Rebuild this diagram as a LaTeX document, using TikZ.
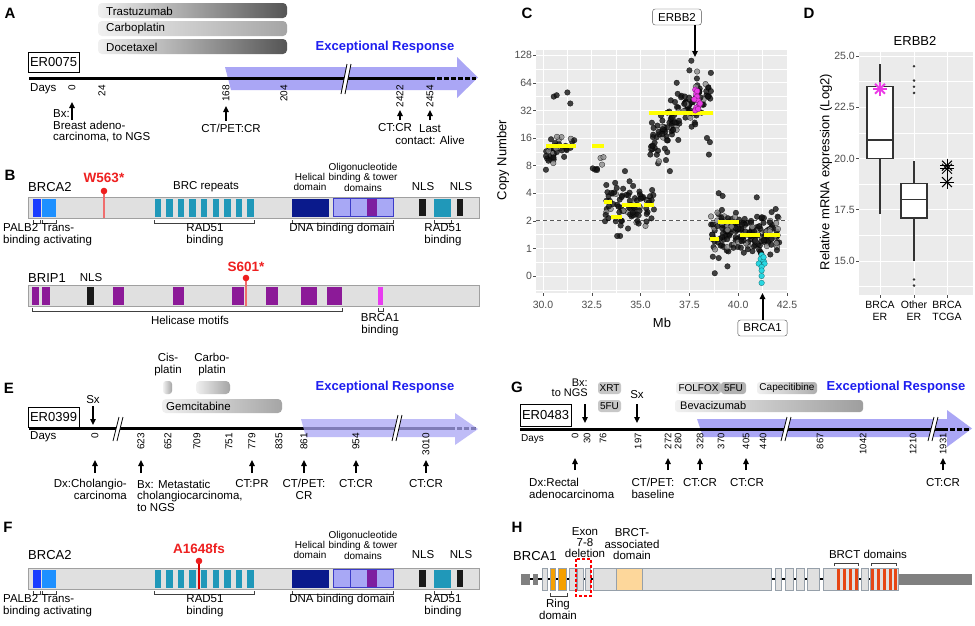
\documentclass[tikz,border=0pt]{standalone}
\usepackage{fontspec}
\setmainfont{Liberation Sans}
\usetikzlibrary{arrows.meta}

\definecolor{lav}{RGB}{170,166,245}
\definecolor{erblue}{RGB}{30,30,240}
\definecolor{mutred}{RGB}{238,32,32}
\definecolor{mutline}{RGB}{240,110,110}
\definecolor{barbg}{RGB}{224,224,224}
\definecolor{barln}{RGB}{160,160,160}
\definecolor{palb}{RGB}{25,60,255}
\definecolor{trans}{RGB}{30,144,255}
\definecolor{brc}{RGB}{32,152,185}
\definecolor{helic}{RGB}{10,26,140}
\definecolor{obd}{RGB}{168,168,245}
\definecolor{obln}{RGB}{60,60,200}
\definecolor{purp}{RGB}{125,30,160}
\definecolor{heli}{RGB}{140,26,152}
\definecolor{brcbind}{RGB}{232,60,240}
\definecolor{ggbg}{RGB}{235,235,235}
\definecolor{ggtxt}{RGB}{77,77,77}
\definecolor{segy}{RGB}{255,255,0}
\definecolor{magp}{RGB}{235,60,230}
\definecolor{cyanp}{RGB}{40,215,225}
\definecolor{ring}{RGB}{245,160,0}
\definecolor{bract}{RGB}{253,215,155}
\definecolor{brct}{RGB}{230,70,20}
\definecolor{utr}{RGB}{128,128,128}
\definecolor{exln}{RGB}{150,160,170}
\definecolor{druglt}{RGB}{240,240,240}
\definecolor{drugdk}{RGB}{85,85,85}
\definecolor{drugmd}{RGB}{165,165,165}

\tikzset{
  lab/.style={inner sep=0pt, font=\fontsize{11.5}{11.5}\selectfont, align=center},
  small/.style={inner sep=0pt, font=\fontsize{10}{10.5}\selectfont, align=center},
  tk/.style={inner sep=0pt, font=\fontsize{10}{10}\selectfont, rotate=90, anchor=east},
  panel/.style={inner sep=0pt, font=\fontsize{15}{15}\selectfont\bfseries},
  gname/.style={inner sep=0pt, font=\fontsize{13}{13}\selectfont, anchor=west},
  mut/.style={inner sep=0pt, font=\fontsize{13.5}{13.5}\selectfont\bfseries, text=mutred},
  resp/.style={inner sep=0pt, font=\fontsize{13}{13}\selectfont\bfseries, text=erblue},
  idbox/.style={draw, line width=0.9pt, inner sep=0pt, minimum width=51pt, minimum height=20pt, font=\fontsize{13}{13}\selectfont},
  evt/.style={line width=1.5pt, -{Triangle[length=6pt,width=5.5pt]}},
  tline/.style={line width=3pt},
  tdash/.style={line width=3pt, dash pattern=on 5pt off 2pt},
  brkt/.style={draw=black!75, line width=0.8pt},
  drug/.style={rounded corners=4pt, left color=druglt, right color=#1},
  ggtick/.style={inner sep=0pt, font=\fontsize{10.5}{12}\selectfont, text=ggtxt, align=center},
  axt/.style={inner sep=0pt, font=\fontsize{13}{13}\selectfont},
  cnpt/.style={draw=black, line width=0.3pt, fill=#1, fill opacity=0.8, draw opacity=0.8},
  exon/.style={fill=barbg, draw=exln, line width=0.6pt},
  bx/.style={draw=black!80, line width=1.1pt},
}

% timeline break mark
\newcommand{\tlbreak}[3]{%
  \fill[white] (#1-5,#2+#3) -- (#1+1,#2-#3) -- (#1+5,#2-#3) -- (#1-1,#2+#3) -- cycle;
  \draw[line width=0.8pt] (#1-5,#2+#3) -- (#1+1,#2-#3) (#1-1,#2+#3) -- (#1+5,#2-#3);}

% asterisk marker
\newcommand{\astk}[3]{\foreach \a in {0,45,90,135} \draw[#3] (#1) +(\a:#2) -- +(\a:-#2);}

% BRCA2 protein map (panels B and F); #2 lifts the labels above the bar
\newcommand{\brcatwo}[2]{%
  \node[gname] (#1name) at (28,187-#2) {BRCA2};
  \draw[fill=barbg, draw=barln, line width=0.7pt] (28,197) rectangle (479,218);
  \fill[palb] (33,198.5) rectangle (41,216.5);
  \fill[trans] (42,198.5) rectangle (56,216.5);
  \foreach \i in {0,...,8} \fill[brc] (154.5+11.6*\i,198.5) rectangle ++(6.5,18);
  \fill[helic] (292,198.5) rectangle (329,216.5);
  \fill[obd] (333,198.5) rectangle (393,216.5);
  \fill[purp] (367,198.5) rectangle (377,216.5);
  \draw[obln, line width=0.5pt] (350,198.5) -- (350,216.5) (333,198.5) rectangle (393,216.5);
  \fill[black!90] (419,199) rectangle (426,216);
  \fill[brc] (434,198.5) rectangle (451,216.5);
  \fill[black!90] (457,199) rectangle (463,216);
  \foreach \a/\b in {33/40,42/56,154/254,292/393,434/451}
    \draw[brkt] (\a,220) -- (\a,223) -- (\b,223) -- (\b,220);
  \node[small] (#1hel) at (310,182-#2) {Helical\\domain};
  \node[small] (#1ob) at (363,177-#2) {Oligonucleotide\\binding \& tower\\domains};
  \node[lab] (#1nlsa) at (423,187-#2) {NLS};
  \node[lab] (#1nlsb) at (461,187-#2) {NLS};
  \node[lab, font=\fontsize{11.5}{12}\selectfont, align=left, anchor=west] (#1palb) at (3,235) {PALB2 Trans-\\binding activating};
  \node[lab, font=\fontsize{11.5}{12}\selectfont] (#1rada) at (205,235) {RAD51\\binding};
  \node[lab] (#1dna) at (342,229) {DNA binding domain};
  \node[lab, font=\fontsize{11.5}{12}\selectfont] (#1radb) at (443,235) {RAD51\\binding};
}

\begin{document}
\begin{tikzpicture}[x=1pt, y=-1pt]
\fill[white] (0,0) rectangle (975,625);
\useasboundingbox (0,0) rectangle (975,625);

% ---------------- A ----------------
\node[panel] (pA) at (10,13) {A};
\shade[drug=drugdk] (98,3) rectangle (287,18);
\shade[drug=drugmd] (98,21) rectangle (287,36);
\shade[drug=drugdk] (98,39) rectangle (287,54);
\node[lab, anchor=west] (trast) at (106,11) {Trastuzumab};
\node[lab, anchor=west] (carbA) at (106,29) {Carboplatin};
\node[lab, anchor=west] (doce) at (106,47) {Docetaxel};
\node[resp] (respA) at (385,47) {Exceptional Response};
\node[idbox] (er75) at (53.5,62) {ER0075};
\fill[lav] (225,67) -- (457,67) -- (457,57) -- (478,77.5) -- (457,98) -- (457,90) -- (231,90) -- cycle;
\draw[tline] (29,78) -- (435,78);
\draw[tdash] (437,78) -- (476,78);
\tlbreak{346}{79}{15}
\node[lab, anchor=west] (daysA) at (30,89) {Days};
\foreach \x/\t in {72/0,102/24,226/168,284/204,400/2422,430/2454}
  \node[tk] at (\x,85) {\t};
\draw[evt] (72,120) -- (72,102);
\draw[evt] (226,121) -- (226,106);
\draw[evt] (400,120) -- (400,110);
\draw[evt] (430,120) -- (430,110);
\node[lab, font=\fontsize{11.5}{11.5}\selectfont, align=left, anchor=west] (bxA) at (53,126) {Bx:\\Breast adeno-\\carcinoma, to NGS};
\node[lab] (ctA) at (231,128) {CT/PET:CR};
\node[lab] (crA) at (395,128) {CT:CR};
\node[lab, font=\fontsize{11.5}{12.5}\selectfont] (lastA) at (430,134.5) {Last\\contact: Alive};

% ---------------- B ----------------
\node[panel] (pB) at (10,175) {B};
\brcatwo{b}{0}
\node[lab] (bbrc) at (206,187) {BRC repeats};
\draw[mutline, line width=1.2pt] (104,191) -- (104,218);
\fill[mutred] (104,191) circle (3.3pt);
\node[mut] (w563) at (104,178) {W563*};
% BRIP1
\node[gname] (brip) at (28,278) {BRIP1};
\node[lab] (nlsC) at (91,278) {NLS};
\draw[fill=barbg, draw=barln, line width=0.7pt] (28,285) rectangle (479,306);
\foreach \a/\b in {32/39,42/50,113/124,173/184,232/244,266/278,301/317,327/342}
  \fill[heli] (\a,286.5) rectangle (\b,304.5);
\fill[black!90] (87,286.5) rectangle (94,304.5);
\fill[brcbind] (378,286.5) rectangle (383,304.5);
\draw[mutline, line width=1.2pt] (246,278) -- (246,306);
\fill[mutred] (246,278) circle (3.3pt);
\node[mut] (s601) at (246,267) {S601*};
\draw[brkt] (32,308) -- (32,311) -- (342,311) -- (342,308);
\draw[brkt] (378,308) -- (378,311) -- (383,311) -- (383,308);
\node[lab] (helim) at (190,320) {Helicase motifs};
\node[lab, font=\fontsize{11.5}{12}\selectfont] (b1bind) at (380,325) {BRCA1\\binding};

% ---------------- C ----------------
\node[panel] (pC) at (527,13) {C};
\fill[ggbg] (536,50) rectangle (788,293);
\begin{scope}[shift={(543,276)}, x=19.52pt, y=27.6pt]
  \foreach \p in {-0.5,0.5,...,7.5} \draw[white, line width=0.4pt] (-0.36,\p) -- (12.55,\p);
  \foreach \m in {1.25,3.75,...,11.25} \draw[white, line width=0.4pt] (\m,-0.62) -- (\m,8.19);
  \foreach \p in {0,...,8} \draw[white, line width=1pt] (-0.36,\p) -- (12.55,\p);
  \foreach \m in {0,2.5,5,7.5,10,12.5} \draw[white, line width=1pt] (\m,-0.62) -- (\m,8.19);
  \draw[black!65, line width=0.7pt, dash pattern=on 4pt off 3pt] (-0.36,2) -- (12.55,2);
  \foreach \p/\t in {0/0,1/1,2/2,3/4,4/8,5/16,6/32,7/64,8/128}{
    \draw[ggtxt, line width=0.6pt] (-0.36,\p) -- ++(-3pt,0);
    \node[ggtick, anchor=east] at (-0.55,\p) {\t};
  }
  \foreach \m/\t in {0/30.0,2.5/32.5,5/35.0,7.5/37.5,10/40.0,12.5/42.5}{
    \draw[ggtxt, line width=0.6pt] (\m,-0.62) -- ++(0,-3pt);
    \node[ggtick] at (\m,-1.05) {\t};
  }
  % copy number points
  \pgfmathsetseed{2718}
  \foreach \nn/\xa/\xb/\pa/\pb/\sd in {38/0.15/1.6/4.35/4.95/0.25, 6/2.55/3.1/3.85/4.25/0.12,
      80/3.15/5.7/2.7/2.5/0.4, 120/5.5/8.6/4.8/6.8/0.4, 185/8.6/12.1/1.65/1.45/0.38}{
    \foreach \i in {1,...,\nn}{
      \pgfmathsetmacro\uu{rnd}
      \pgfmathsetmacro\xx{\xa+(\xb-\xa)*\uu}
      \pgfmathsetmacro\yy{\pa+(\pb-\pa)*\uu+\sd*(rand+rand+rand)}
      \pgfmathtruncatemacro\gry{rnd<0.18}
      \ifnum\gry=1 \fill[cnpt=black!45] (\xx,\yy) circle (2.8pt);
      \else \fill[cnpt=black!92] (\xx,\yy) circle (2.8pt); \fi
    }
  }
  \foreach \xx/\yy in {0.55/6.5,0.7/6.55,1.25/6.65,1.4/6.25,0.15/3.85,1.6/4.92,2.55/3.9,4.2/3.8,
      5/2.8,4.9/1.9,3.95/1.45,3.8/1.45,7.6/7.8,7.5/7.45,6.85/7.0,6.9/6.6,8.45/6.5,8.6/6.7,
      8.5/4.4,8.55/4.85,8.4/5.0,5.5/4.4,6.3/4.2,6.5/3.8,9.45/0.35,8.8/0.1,8.7/0.7,9/0.65,
      10.95/2.85,9/3.0,9.2/2.9,4.9/2.2,4.6/2.3}
    \fill[cnpt=black!92] (\xx,\yy) circle (2.8pt);
  \foreach \xa/\xb/\pp in {0.15/1.7/4.72,2.5/3.1/4.72,3.1/3.55/2.69,3.47/4.03/2.13,4.03/5.0/2.57,
      5.17/5.7/2.57,5.45/8.7/5.92,8.55/9.0/1.33,8.95/10.05/1.94,10.1/11.1/1.49,11.3/12.15/1.49}
    \draw[segy, line width=4pt] (\xa,\pp) -- (\xb,\pp);
  \foreach \xx/\yy in {7.8/6.75,7.85/6.6,7.9/6.5,7.95/6.35,8.0/6.2,7.85/6.1,7.8/6.0,7.95/6.05,
      8.05/6.25,7.75/6.4,7.9/6.7}
    \draw[fill=magp, draw=magp!50!black, line width=0.3pt] (\xx,\yy) circle (2.8pt);
  \foreach \xx/\yy in {11.2/0.76,11.15/0.62,11.3/0.55,11.05/0.45,11.35/0.45,11.2/0.33,11.2/0.2,
      11.2/0.0,11.2/-0.25,11.3/0.68}
    \draw[fill=cyanp, draw=cyanp!50!black, line width=0.3pt] (\xx,\yy) circle (2.8pt);
\end{scope}
\node[axt, rotate=90] (cnlab) at (503,160) {Copy Number};
\node[axt] (mblab) at (662,323) {Mb};
\node[lab, draw=black!70, rounded corners=2.5pt, inner xsep=5.5pt, minimum height=16pt] (erbb2) at (677,17) {ERBB2};
\coordinate (erbb2tip) at (695,57);
\draw[evt, line width=2pt] (erbb2.south -| erbb2tip) -- (erbb2tip);
\node[lab, draw=black!70, rounded corners=2.5pt, inner xsep=5.5pt, minimum height=16pt] (brca1box) at (762.5,328) {BRCA1};
\coordinate (brca1tip) at (762.5,293);
\draw[evt, line width=2pt] (brca1box.north) -- (brca1tip);

% ---------------- D ----------------
\node[panel] (pD) at (809,13) {D};
\node[axt] (dtitle) at (915,41) {ERBB2};
\fill[ggbg] (859,52) rectangle (973,295);
\begin{scope}[shift={(0,56)}, y=20.5pt]
  \foreach \v in {-11.25,-8.75,-6.25,-3.75,-1.25} \draw[white, line width=0.4pt] (859,\v) -- (973,\v);
  \foreach \v/\t in {0/25.0,-2.5/22.5,-5/20.0,-7.5/17.5,-10/15.0}{
    \draw[white, line width=1pt] (859,\v) -- (973,\v);
    \draw[ggtxt, line width=0.6pt] (859,\v) -- ++(-3pt,0);
    \node[ggtick, anchor=east] at (855,\v) {\t};
  }
  \foreach \x in {880,914,947}{
    \draw[white, line width=1pt] (\x,0.19) -- (\x,-11.66);
    \draw[ggtxt, line width=0.6pt] (\x,-11.66) -- ++(0,-3pt);
  }
  % BRCA ER
  \draw[bx] (880,17.3-25) -- (880,-5) (880,-1.5) -- (880,24.6-25);
  \draw[bx, fill=white] (867,-5) rectangle (893,-1.5);
  \draw[bx, line width=1.8pt] (867,20.9-25) -- (893,20.9-25);
  \astk{880,23.4-25}{7pt}{magp, line width=2pt}
  % Other ER
  \draw[bx] (914,15-25) -- (914,17.1-25) (914,18.8-25) -- (914,19.9-25);
  \draw[bx, fill=white] (901,17.1-25) rectangle (927,18.8-25);
  \draw[bx, line width=1.8pt] (901,18-25) -- (927,18-25);
  \foreach \v in {24.5,23.8,23.5,23.2,14.1,13.8} \fill[black!80] (914,\v-25) circle (1.4pt);
  % BRCA TCGA
  \astk{947,19.65-25}{7pt}{black, line width=1pt}
  \astk{947,19.5-25}{7pt}{black, line width=1pt}
  \astk{947,18.85-25}{7pt}{black, line width=1pt}
\end{scope}
\node[axt, rotate=90] (dylab) at (826,172) {Relative mRNA expression (Log2)};
\node[ggtick, text=black] (xbrca) at (880,311) {BRCA\\ER};
\node[ggtick, text=black] (xother) at (914,311) {Other\\ER};
\node[ggtick, text=black] (xtcga) at (947,311) {BRCA\\TCGA};

% ---------------- E ----------------
\node[panel] (pE) at (9,388) {E};
\node[lab, font=\fontsize{11.5}{12}\selectfont] (cisE) at (168,365) {Cis-\\platin};
\node[lab, font=\fontsize{11.5}{12}\selectfont] (carbE) at (212,365) {Carbo-\\platin};
\shade[drug=drugmd, rounded corners=3pt] (163,381) rectangle (172,394);
\shade[drug=drugmd] (196,381) rectangle (230,394);
\shade[drug=drugmd] (162,399) rectangle (282,413);
\node[lab, anchor=west] (gem) at (166,406) {Gemcitabine};
\node[resp] (respE) at (385,387) {Exceptional Response};
\node[idbox] (er399) at (53.5,417) {ER0399};
\draw[tline] (29,428) -- (455,428);
\draw[tdash] (457,428) -- (476,428);
\fill[lav, fill opacity=0.75] (301,419) -- (455,419) -- (455,413) -- (478,429) -- (455,445) -- (455,437) -- (306,437) -- cycle;
\tlbreak{118}{429}{12}
\tlbreak{397}{428}{13}
\node[lab] (sxE) at (93,400) {Sx};
\draw[evt] (93,406) -- (93,425);
\node[lab, anchor=west] (daysE) at (30,437) {Days};
\foreach \x/\t in {95/0,141/623,168/652,197/709,229/751,252/779,279/835,304/861,356/954,426/3010}
  \node[tk] at (\x,433) {\t};
\foreach \x in {95,141,252,304,356,426}
  \draw[evt] (\x,473) -- (\x,460);
\node[lab, align=right, anchor=east] (dxE) at (127,489.5) {Dx:Cholangio-\\carcinoma};
\node[lab, align=left, anchor=west] (bxE) at (137,495.5) {Bx: Metastatic\\cholangiocarcinoma,\\to NGS};
\node[lab] (prE) at (252,484) {CT:PR};
\node[lab] (petE) at (304,489.5) {CT/PET:\\CR};
\node[lab] (crE) at (356,484) {CT:CR};
\node[lab] (crE2) at (426,484) {CT:CR};

% ---------------- F ----------------
\node[panel] (pF) at (8,527) {F};
\begin{scope}[shift={(0,371)}]
  \brcatwo{f}{3}
\end{scope}
\draw[red!85!black, line width=1.2pt] (199,561) -- (199,589);
\fill[mutred] (199,561) circle (3.3pt);
\node[mut] (a1648) at (199,549) {A1648fs};

% ---------------- G ----------------
\node[panel] (pG) at (517,387) {G};
\node[lab, font=\fontsize{11}{10}\selectfont, align=right, anchor=east] (bxG) at (588,388) {Bx:\\to NGS};
\draw[evt] (585,404) -- (585,423);
\node[lab] (sxG) at (637,395) {Sx};
\draw[evt] (637,404) -- (637,423);
\fill[black!22, rounded corners=3pt] (598,382) rectangle (621,394);
\fill[black!22, rounded corners=3pt] (598,400) rectangle (621,412);
\shade[drug=black!28, rounded corners=3pt] (676,382) rectangle (721,394);
\fill[black!30, rounded corners=3pt] (721,382) rectangle (746,394);
\shade[drug=black!32, rounded corners=3pt] (757,382) rectangle (817,394);
\shade[drug=black!38, rounded corners=3pt] (675,400) rectangle (863,412);
\node[small] (xrt) at (609.5,388) {XRT};
\node[small] (fuG) at (609.5,406) {5FU};
\node[small] (folfox) at (698.5,388) {FOLFOX};
\node[small] (fuG2) at (733.5,388) {5FU};
\node[small] (cape) at (787,388) {Capecitibine};
\node[lab, font=\fontsize{11}{11}\selectfont, anchor=west] (beva) at (680,406) {Bevacizumab};
\node[resp] (respG) at (896,387) {Exceptional Response};
\node[idbox, minimum height=22pt] (er483) at (545.5,415) {ER0483};
\fill[lav] (697,419) -- (947,419) -- (947,410) -- (972,428.5) -- (947,447) -- (947,437) -- (703,437) -- cycle;
\draw[tline] (520,429) -- (948,429);
\draw[tdash] (950,429) -- (970,429);
\tlbreak{786}{429}{12}
\tlbreak{933}{429}{12}
\node[lab, font=\fontsize{10}{10}\selectfont, anchor=west] (daysG) at (521,439) {Days};
\foreach \x/\t in {575/0,587/30,603/76,638/197,668/272,678/280,700/328,721/370,746/405,763/440,820/867,863/1042,913/1210,943/1931}
  \node[tk, font=\fontsize{9.5}{9.5}\selectfont] at (\x,433) {\t};
\foreach \x in {575,668,700,746,943}
  \draw[evt] (\x,470) -- (\x,458);
\node[lab, align=left, anchor=west] (dxG) at (529,488.5) {Dx:Rectal\\adenocarcinoma};
\node[lab] (petG) at (653,488.5) {CT/PET:\\baseline};
\node[lab] (crG1) at (700,483) {CT:CR};
\node[lab] (crG2) at (747,483) {CT:CR};
\node[lab] (crG3) at (943,483) {CT:CR};

% ---------------- H ----------------
\node[panel] (pH) at (517,527) {H};
\node[gname] (brca1g) at (513,556) {BRCA1};
\draw[line width=1.3pt] (530,579) -- (899,579);
\fill[utr] (520.7,573.5) rectangle (530,584.5);
\fill[utr] (532.7,573.5) rectangle (538.3,584.5);
\fill[utr] (899.3,573.5) rectangle (971.7,584.5);
\foreach \a/\b in {542.7/547.3,569.3/576,577.7/583.3,585/590,593.3/771.7,775/781.7,785/793.3,
    796/804,807.3/819.3,823.3/858.5,861/868,870/898}
  \draw[exon] (\a,568) rectangle (\b,590);
\foreach \a/\b in {550/555.3,558.3/566.7}
  \draw[exon, fill=ring] (\a,568) rectangle (\b,590);
\draw[exon, fill=bract] (616.7,568) rectangle (642.3,590);
\foreach \a in {836.5,843,849,854.5,871,877,882.5,888.5,894}
  \fill[brct] (\a,568.5) rectangle ++(3.4,21);
\draw[red, line width=1.2pt, dash pattern=on 3pt off 2pt] (576,559) rectangle (591,596);
\draw[brkt] (550,593) -- (550,596) -- (567,596) -- (567,593);
\draw[brkt] (834.3,566) -- (834.3,563) -- (858.3,563) -- (858.3,566);
\draw[brkt] (871.7,566) -- (871.7,563) -- (896,563) -- (896,566);
\node[lab, font=\fontsize{11.5}{12}\selectfont] (ringl) at (558,609) {Ring\\domain};
\node[lab, font=\fontsize{11.5}{11}\selectfont] (exdel) at (585,543) {Exon\\7-8\\deletion};
\node[lab, font=\fontsize{11.5}{11.5}\selectfont] (bract) at (632,544.5) {BRCT-\\associated\\domain};
\node[lab] (brctd) at (868,554) {BRCT domains};

\end{tikzpicture}
\end{document}
